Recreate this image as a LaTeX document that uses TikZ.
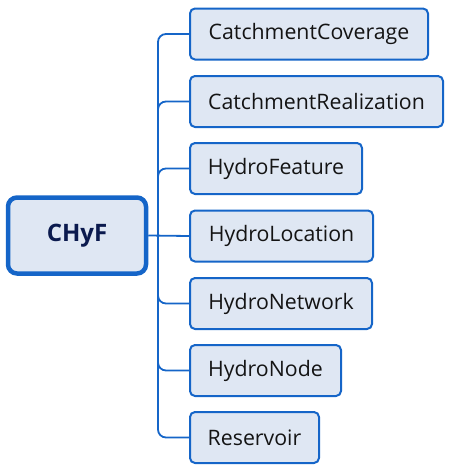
\documentclass[tikz,border=0pt]{standalone}
\usepackage{fontspec}
\setmainfont{Open Sans}
\definecolor{boxblue}{HTML}{1565C8}
\definecolor{boxfill}{HTML}{DFE7F3}
\definecolor{rootnavy}{HTML}{0B1A4E}
\begin{document}
\begin{tikzpicture}[x=1pt,y=-1pt,
  child/.style={draw=boxblue, fill=boxfill, line width=2pt, rounded corners=5pt,
    anchor=west, minimum height=51pt, inner sep=0pt, font=\fontsize{21.3}{25}\selectfont, text=black!92},
  rootbox/.style={draw=boxblue, fill=boxfill, line width=4.5pt, rounded corners=9pt,
    minimum width=138pt, minimum height=76pt, inner sep=0pt,
    font=\fontsize{24}{28}\selectfont\bfseries, text=rootnavy},
  link/.style={draw=boxblue, line width=1.8pt, rounded corners=8pt}]
\useasboundingbox (0,0) rectangle (449,474);
\node[rootbox] (root) at (77,235.5) {CHyF};
\node[child, minimum width=238pt] (c1) at (189,34) {CatchmentCoverage};
\node[child, minimum width=253pt] (c2) at (189,101.5) {CatchmentRealization};
\node[child, minimum width=172pt] (c3) at (189,168.5) {HydroFeature};
\node[child, minimum width=183pt] (c4) at (189,236) {HydroLocation};
\node[child, minimum width=182pt] (c5) at (189,303.5) {HydroNetwork};
\node[child, minimum width=151pt] (c6) at (189,370.5) {HydroNode};
\node[child, minimum width=129pt] (c7) at (189,437.5) {Reservoir};
\coordinate (tr) at (158,236);
\draw[link] (root.east) -- (c4.west);
\foreach \i in {1,2,3,5,6,7}{
  \draw[link] (tr) -- (tr |- c\i.west) -- (c\i.west);
}
\end{tikzpicture}
\end{document}
